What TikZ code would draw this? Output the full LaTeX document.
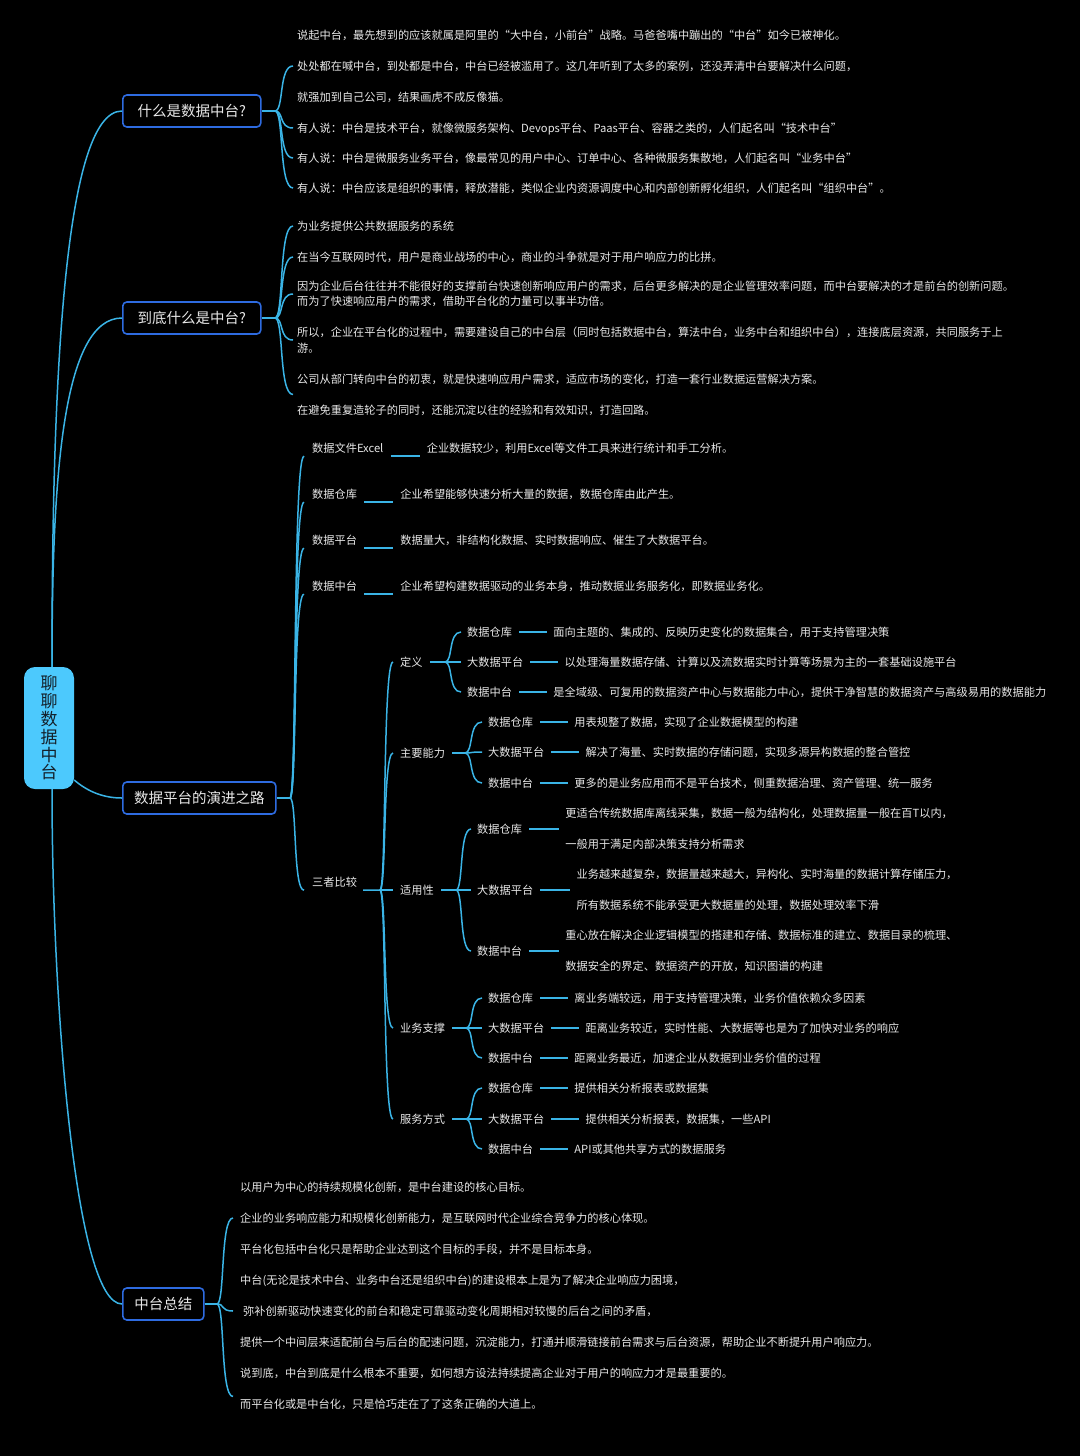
\documentclass[tikz,border=0pt]{standalone}
\usepackage{fontspec}
\setmainfont{Noto Sans CJK SC}
\usetikzlibrary{calc,positioning}
\definecolor{conn}{HTML}{3AB4E6}
\definecolor{boxline}{HTML}{2E6BE0}
\definecolor{rootfill}{HTML}{4CC9FD}
\definecolor{fg}{HTML}{E8E8E8}
\definecolor{rootfg}{HTML}{14202A}
\begin{document}
\begin{tikzpicture}[x=1pt,y=-1pt,
  cn/.style={draw=conn, line width=1.5pt},
  brace/.style={to path={let \p1=(\tikztostart),\p2=(\tikztotarget) in .. controls ($(\x1,\y1)!0.5!(\x2,\y1)$) and ($(\x1,\y2)!0.2!(\x2,\y2)$) .. (\tikztotarget)}},
  lbl/.style={text=fg, font=\fontsize{11.2}{15.5}\selectfont, inner sep=0pt, anchor=west, text height=9.86pt, text depth=1.34pt},
  mlbl/.style={text=fg, font=\fontsize{11.2}{15.5}\selectfont, inner sep=0pt, anchor=west, align=left},
  topbox/.style={draw=boxline, line width=1.6pt, rounded corners=4pt, fill=black, text=fg, font=\fontsize{14.5}{17}\selectfont, inner xsep=0pt, inner ysep=0pt, minimum height=32pt, anchor=west},
  rootbox/.style={fill=rootfill, rounded corners=11pt, minimum width=50pt, minimum height=122pt, align=center, font=\fontsize{17}{17.8}\selectfont, text=rootfg, inner sep=0pt}
]
\useasboundingbox (0,0) rectangle (1080,1456);
\fill[black] (0,0) rectangle (1080,1456);

% ---------- root and main boxes ----------
\node[rootbox] (root) at (49,728) {聊\\聊\\数\\据\\中\\台};
\node[topbox, minimum width=138pt] (b1) at (122,111) {什么是数据中台?};
\node[topbox, minimum width=138pt] (b2) at (122,318) {到底什么是中台?};
\node[topbox, minimum width=153pt] (b3) at (122,798) {数据平台的演进之路};
\node[topbox, minimum width=81pt] (b4) at (122,1304) {中台总结};

\draw[cn] ([xshift=3pt]root.north) .. controls +(0,-267) and +(-60,0) .. (b1.west);
\draw[cn] ([xshift=3pt]root.north) .. controls +(0,-187) and +(-60,0) .. (b2.west);
\draw[cn] ([yshift=-52pt]root.east) .. controls +(14,12) and +(-18,0) .. (b3.west);
\draw[cn] ([xshift=3pt]root.south) .. controls +(0,212) and +(-47,0) .. (b4.west);

% ---------- branch 1 ----------
\coordinate (j1) at (275,111);
\node[mlbl] (a1) at (297,66) {说起中台，最先想到的应该就属是阿里的“大中台，小前台”战略。马爸爸嘴中蹦出的“中台”如今已被神化。\\[15.5pt]处处都在喊中台，到处都是中台，中台已经被滥用了。这几年听到了太多的案例，还没弄清中台要解决什么问题，\\[15.5pt]就强加到自己公司，结果画虎不成反像猫。};
\node[lbl] (a2) at (297,128) {有人说：中台是技术平台，就像微服务架构、Devops平台、Paas平台、容器之类的，人们起名叫“技术中台”};
\node[lbl] (a3) at (297,158) {有人说：中台是微服务业务平台，像最常见的用户中心、订单中心、各种微服务集散地，人们起名叫“业务中台”};
\node[lbl] (a4) at (297,188) {有人说：中台应该是组织的事情，释放潜能，类似企业内资源调度中心和内部创新孵化组织，人们起名叫“组织中台”。};
\draw[cn] (b1.east) -- (j1);
\foreach \n in {a1,a2,a3,a4} \draw[cn] (j1) to[brace] ([xshift=-4pt]\n.west);

% ---------- branch 2 ----------
\coordinate (j2) at (275,318);
\node[lbl] (c1) at (297,226) {为业务提供公共数据服务的系统};
\node[lbl] (c2) at (297,257) {在当今互联网时代，用户是商业战场的中心，商业的斗争就是对于用户响应力的比拼。};
\node[mlbl] (c3) at (297,294) {因为企业后台往往并不能很好的支撑前台快速创新响应用户的需求，后台更多解决的是企业管理效率问题，而中台要解决的才是前台的创新问题。\\而为了快速响应用户的需求，借助平台化的力量可以事半功倍。};
\node[mlbl] (c4) at (297,340) {所以，企业在平台化的过程中，需要建设自己的中台层（同时包括数据中台，算法中台，业务中台和组织中台），连接底层资源，共同服务于上\\游。};
\node[mlbl] (c5) at (297,394.5) {公司从部门转向中台的初衷，就是快速响应用户需求，适应市场的变化，打造一套行业数据运营解决方案。\\[15.5pt]在避免重复造轮子的同时，还能沉淀以往的经验和有效知识，打造回路。};
\draw[cn] (b2.east) -- (j2);
\foreach \n in {c1,c2,c3,c4,c5} \draw[cn] (j2) to[brace] ([xshift=-4pt]\n.west);

% ---------- branch 3 ----------
\coordinate (j3) at (290,798);
\node[lbl] (e1) at (312,448) {数据文件Excel};
\node[lbl] (e2) at (312,494) {数据仓库};
\node[lbl] (e3) at (312,540) {数据平台};
\node[lbl] (e4) at (312,586) {数据中台};
\node[lbl] (cmp) at (312,882) {三者比较};
\node[lbl, right=43pt of e1] (e1d) {企业数据较少，利用Excel等文件工具来进行统计和手工分析。};
\node[lbl, right=43pt of e2] (e2d) {企业希望能够快速分析大量的数据，数据仓库由此产生。};
\node[lbl, right=43pt of e3] (e3d) {数据量大，非结构化数据、实时数据响应、催生了大数据平台。};
\node[lbl, right=43pt of e4] (e4d) {企业希望构建数据驱动的业务本身，推动数据业务服务化，即数据业务化。};
\draw[cn] (b3.east) -- (j3);
\foreach \n in {e1,e2,e3,e4,cmp} \draw[cn] (j3) to[brace] ([shift={(-8pt,-2.4pt)}]\n.south west);
\foreach \n in {e1,e2,e3,e4} \draw[cn] ([shift={(7pt,-2.4pt)}]\n.south east) -- ([shift={(-7pt,-2.4pt)}]\n d.south west);

\coordinate (jc) at (380,890);
\draw[cn] ([shift={(6pt,-2.4pt)}]cmp.south east) -- (jc);
\node[lbl] (f1) at (400,662) {定义};
\node[lbl] (f2) at (400,753) {主要能力};
\node[lbl] (f3) at (400,890) {适用性};
\node[lbl] (f4) at (400,1028) {业务支撑};
\node[lbl] (f5) at (400,1119) {服务方式};
\foreach \n in {f1,f2,f3,f4,f5} \draw[cn] (jc) to[brace] ([xshift=-7pt]\n.west);

% 定义
\coordinate (jf1) at (445,662);
\draw[cn] ([xshift=7pt]f1.east) -- (jf1);
\node[lbl] (g11) at (467,632) {数据仓库};
\node[lbl] (g12) at (467,662) {大数据平台};
\node[lbl] (g13) at (467,692) {数据中台};
\node[lbl, right=41pt of g11] (g11d) {面向主题的、集成的、反映历史变化的数据集合，用于支持管理决策};
\node[lbl, right=41pt of g12] (g12d) {以处理海量数据存储、计算以及流数据实时计算等场景为主的一套基础设施平台};
\node[lbl, right=41pt of g13] (g13d) {是全域级、可复用的数据资产中心与数据能力中心，提供干净智慧的数据资产与高级易用的数据能力};

% 主要能力
\coordinate (jf2) at (465,753);
\draw[cn] ([xshift=7pt]f2.east) -- (jf2);
\node[lbl] (g21) at (488,722) {数据仓库};
\node[lbl] (g22) at (488,752) {大数据平台};
\node[lbl] (g23) at (488,783) {数据中台};
\node[lbl, right=41pt of g21] (g21d) {用表规整了数据，实现了企业数据模型的构建};
\node[lbl, right=41pt of g22] (g22d) {解决了海量、实时数据的存储问题，实现多源异构数据的整合管控};
\node[lbl, right=41pt of g23] (g23d) {更多的是业务应用而不是平台技术，侧重数据治理、资产管理、统一服务};

% 适用性
\coordinate (jf3) at (456,890);
\draw[cn] ([xshift=7pt]f3.east) -- (jf3);
\node[lbl] (g31) at (477,829) {数据仓库};
\node[lbl] (g32) at (477,890) {大数据平台};
\node[lbl] (g33) at (477,951) {数据中台};
\node[mlbl, right=43pt of g31] (g31d) {更适合传统数据库离线采集，数据一般为结构化，处理数据量一般在百T以内，\\[15.5pt]一般用于满足内部决策支持分析需求};
\node[mlbl, right=43pt of g32] (g32d) {业务越来越复杂，数据量越来越大，异构化、实时海量的数据计算存储压力，\\[15.5pt]所有数据系统不能承受更大数据量的处理，数据处理效率下滑};
\node[mlbl, right=43pt of g33] (g33d) {重心放在解决企业逻辑模型的搭建和存储、数据标准的建立、数据目录的梳理、\\[15.5pt]数据安全的界定、数据资产的开放，知识图谱的构建};

% 业务支撑
\coordinate (jf4) at (466,1028);
\draw[cn] ([xshift=7pt]f4.east) -- (jf4);
\node[lbl] (g41) at (488,998) {数据仓库};
\node[lbl] (g42) at (488,1028) {大数据平台};
\node[lbl] (g43) at (488,1058) {数据中台};
\node[lbl, right=41pt of g41] (g41d) {离业务端较远，用于支持管理决策，业务价值依赖众多因素};
\node[lbl, right=41pt of g42] (g42d) {距离业务较近，实时性能、大数据等也是为了加快对业务的响应};
\node[lbl, right=41pt of g43] (g43d) {距离业务最近，加速企业从数据到业务价值的过程};

% 服务方式
\coordinate (jf5) at (466,1119);
\draw[cn] ([xshift=7pt]f5.east) -- (jf5);
\node[lbl] (g51) at (488,1088) {数据仓库};
\node[lbl] (g52) at (488,1119) {大数据平台};
\node[lbl] (g53) at (488,1149) {数据中台};
\node[lbl, right=41pt of g51] (g51d) {提供相关分析报表或数据集};
\node[lbl, right=41pt of g52] (g52d) {提供相关分析报表，数据集，一些API};
\node[lbl, right=41pt of g53] (g53d) {API或其他共享方式的数据服务};

\foreach \p/\k in {jf1/1,jf2/2,jf3/3,jf4/4,jf5/5}{
  \foreach \i in {1,2,3}{
    \draw[cn] (\p) to[brace] ([xshift=-6pt]g\k\i.west);
    \draw[cn] ([xshift=7pt]g\k\i.east) -- ([xshift=-6pt]g\k\i d.west);
  }
}

% ---------- branch 4 ----------
\coordinate (j4) at (217,1304);
\node[mlbl] (h1) at (240,1218) {以用户为中心的持续规模化创新，是中台建设的核心目标。\\[15.5pt]企业的业务响应能力和规模化创新能力，是互联网时代企业综合竞争力的核心体现。\\[15.5pt]平台化包括中台化只是帮助企业达到这个目标的手段，并不是目标本身。};
\node[mlbl] (h2) at (240,1311) {中台(无论是技术中台、业务中台还是组织中台)的建设根本上是为了解决企业响应力困境，\\[15.5pt]\hspace{3pt}弥补创新驱动快速变化的前台和稳定可靠驱动变化周期相对较慢的后台之间的矛盾，\\[15.5pt]提供一个中间层来适配前台与后台的配速问题，沉淀能力，打通并顺滑链接前台需求与后台资源，帮助企业不断提升用户响应力。};
\node[mlbl] (h3) at (240,1388.5) {说到底，中台到底是什么根本不重要，如何想方设法持续提高企业对于用户的响应力才是最重要的。\\[15.5pt]而平台化或是中台化，只是恰巧走在了了这条正确的大道上。};
\draw[cn] (b4.east) -- (j4);
\draw[cn] (j4) to[brace] ([xshift=-7pt]h1.west);
\draw[cn] (j4) to[brace] ([xshift=-7pt]h2.west);
\draw[cn] (j4) to[brace] ([shift={(-7pt,-8pt)}]h3.west);
\end{tikzpicture}
\end{document}
